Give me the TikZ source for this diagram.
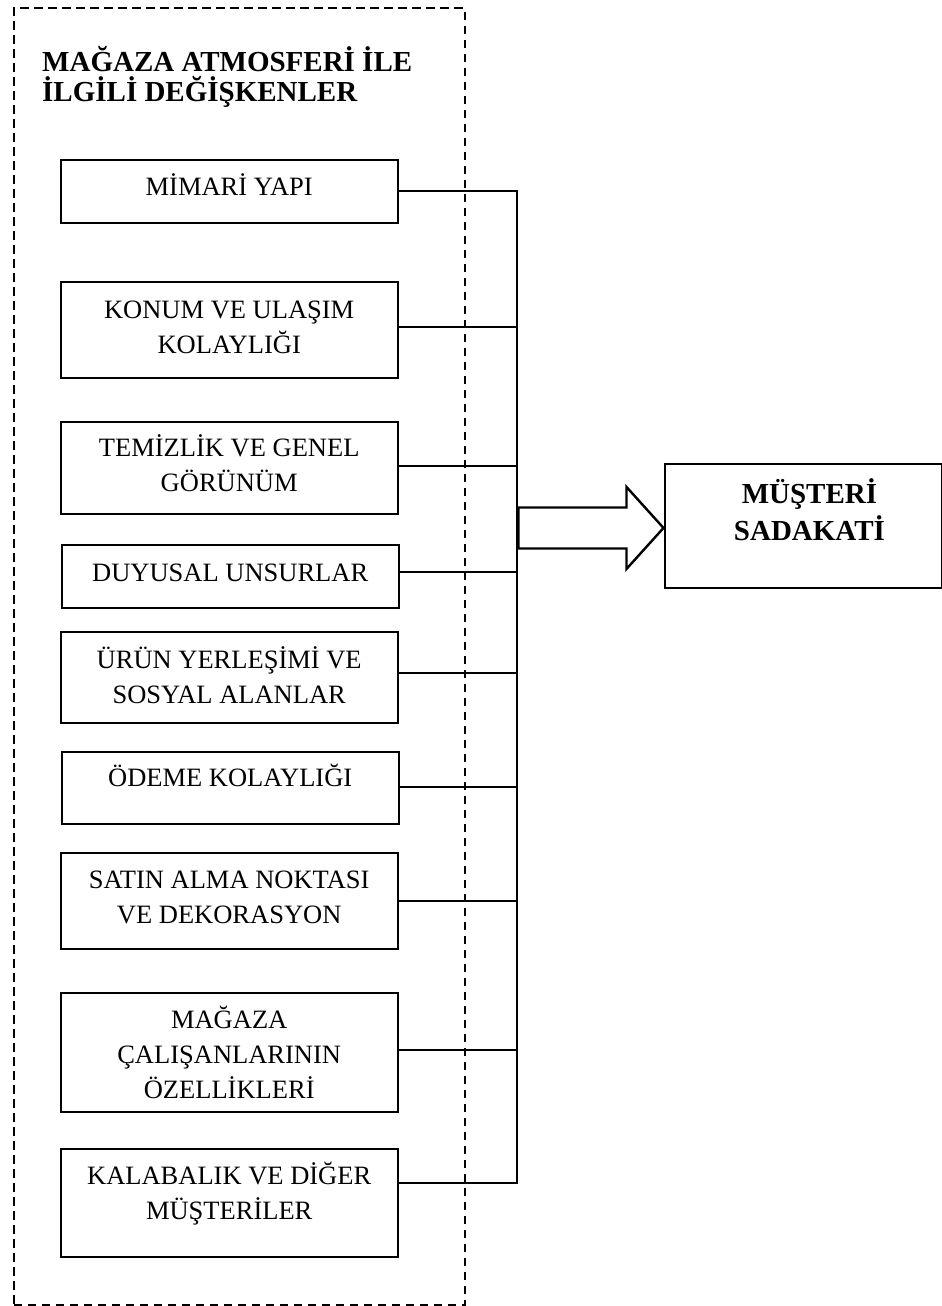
\documentclass[tikz,border=0pt]{standalone}
\usepackage{fontspec}
\setmainfont{Liberation Serif}
% stacked lines with a fixed baseline distance; the box baseline is the first line
\newcommand{\cstack}[1]{\vtop{\lineskiplimit=-1000pt\lineskip=0pt\halign{\hfil##\hfil\cr#1\crcr}}}
\newcommand{\lstack}[1]{\vtop{\lineskiplimit=-1000pt\lineskip=0pt\halign{##\hfil\cr#1\crcr}}}
\begin{document}
\begin{tikzpicture}[x=1pt,y=-1pt,
  frame/.style={draw, dash pattern=on 8.5pt off 5.5pt, line width=2.1pt, inner sep=0pt, anchor=north west},
  heading/.style={inner sep=0pt, anchor=base west, font=\fontsize{29}{30.5}\selectfont\bfseries},
  varbox/.style={draw, line width=2.4pt, inner sep=0pt, minimum width=337pt, anchor=north west,
                 font=\fontsize{26.5}{35}\selectfont},
  span/.style 2 args={text height=#1pt, text depth=#2pt},
  goalbox/.style={draw, line width=2.4pt, inner sep=0pt, minimum width=277.5pt, anchor=north west,
                  font=\fontsize{29}{37}\selectfont\bfseries},
  wire/.style={line width=2.2pt},
  bigarrow/.style={line width=2.4pt, line join=miter}]
\useasboundingbox (0,0) rectangle (942,1306);

% dashed group frame and its heading
\node[frame, minimum width=451pt, minimum height=1297pt] (frame) at (12.5,7) {};
\node[heading] (title) at (42,71) {\lstack{MAĞAZA ATMOSFERİ İLE\cr İLGİLİ DEĞİŞKENLER}};

% store-atmosphere variables
\node[varbox, span={35}{28}] (b1) at (59.5,159)  {\cstack{MİMARİ YAPI}};
\node[varbox, span={36}{60}] (b2) at (59.5,281)  {\cstack{KONUM VE ULAŞIM\cr KOLAYLIĞI}};
\node[varbox, span={34}{58}] (b3) at (59.5,421)  {\cstack{TEMİZLİK VE GENEL\cr GÖRÜNÜM}};
\node[varbox, span={36}{27}] (b4) at (60.5,544)  {\cstack{DUYUSAL UNSURLAR}};
\node[varbox, span={36}{55}] (b5) at (59.5,631)  {\cstack{ÜRÜN YERLEŞİMİ VE\cr SOSYAL ALANLAR}};
\node[varbox, span={34}{38}] (b6) at (60.5,751)  {\cstack{ÖDEME KOLAYLIĞI}};
\node[varbox, span={35}{61}] (b7) at (59.5,852)  {\cstack{SATIN ALMA NOKTASI\cr VE DEKORASYON}};
\node[varbox, span={35}{84}] (b8) at (59.5,992)  {\cstack{MAĞAZA\cr ÇALIŞANLARININ\cr ÖZELLİKLERİ}};
\node[varbox, span={35}{73}] (b9) at (59.5,1148) {\cstack{KALABALIK VE DİĞER\cr MÜŞTERİLER}};

% outcome
\node[goalbox, span={39.5}{85}] (goal) at (663.5,462.5) {\cstack{\hspace*{12pt}MÜŞTERİ\cr \hspace*{12pt}SADAKATİ}};

% junctions on the collecting bus
\coordinate (j1) at (517,191);
\coordinate (j2) at (517,327);
\coordinate (j3) at (517,466);
\coordinate (j4) at (517,572);
\coordinate (j5) at (517,673);
\coordinate (j6) at (517,787);
\coordinate (j7) at (517,901);
\coordinate (j8) at (517,1050);
\coordinate (j9) at (517,1183);

\foreach \i in {1,...,9}
  \draw[wire] (b\i.east |- j\i) -- (j\i);
\draw[wire, line cap=rect] (j1) -- (j9);

% block arrow from the bus to the outcome
\coordinate (tip) at ([yshift=-2pt]goal.west);
\coordinate (root) at ([xshift=1.5pt]j1 |- tip);
\draw[bigarrow] ([yshift=20.5pt]root) -- ([xshift=-37pt,yshift=20.5pt]tip)
  -- ([xshift=-37pt,yshift=41pt]tip) -- (tip)
  -- ([xshift=-37pt,yshift=-41pt]tip) -- ([xshift=-37pt,yshift=-20.5pt]tip)
  -- ([yshift=-20.5pt]root) -- cycle;
\end{tikzpicture}
\end{document}
